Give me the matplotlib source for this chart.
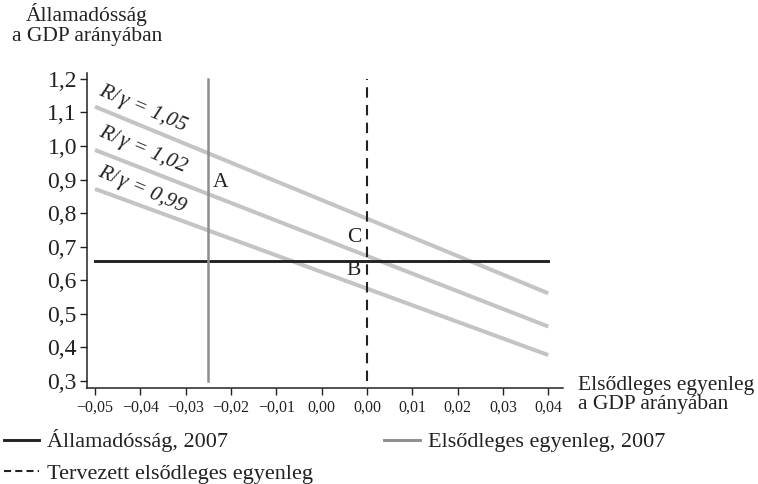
"""Államadósság és elsődleges egyenleg ábra újrarajzolása."""

from __future__ import annotations

import matplotlib

matplotlib.use("Agg")
import matplotlib.pyplot as plt
from matplotlib.lines import Line2D

# x tengely: osztásjelek helye és (az eredetivel egyező) feliratai
x_ticks = [-0.05, -0.04, -0.03, -0.02, -0.01, 0.00, 0.01, 0.02, 0.03, 0.04, 0.05]
x_labels = ["\u22120,05", "\u22120,04", "\u22120,03", "\u22120,02", "\u22120,01",
            "0,00", "0,00", "0,01", "0,02", "0,03", "0,04"]
y_ticks = [0.3, 0.4, 0.5, 0.6, 0.7, 0.8, 0.9, 1.0, 1.1, 1.2]
y_labels = ["0,3", "0,4", "0,5", "0,6", "0,7", "0,8", "0,9", "1,0", "1,1", "1,2"]

# R/gamma egyenesek: kezdő- és végpont
ratio_labels = [r"$R/\,\gamma$ = 1,05", r"$R/\,\gamma$ = 1,02", r"$R/\,\gamma$ = 0,99"]
ratio_x = [-0.05, 0.05]
ratio_y = [
    [1.117, 0.561],
    [0.988, 0.462],
    [0.872, 0.377],
]
ratio_label_pos = [(-0.0395, 1.111), (-0.0395, 0.987), (-0.0395, 0.868)]

debt_2007 = 0.657
debt_x = [-0.05, 0.05]
primary_2007 = -0.025
planned_primary = 0.01
vline_y = [0.30, 1.20]

points = ["A", "B", "C"]
points_x = [-0.0222, 0.00714, 0.00714]
points_y = [0.892, 0.630, 0.728]

FONT = ["Liberation Serif", "DejaVu Serif"]
LIGHT = "#c4c4c4"
MID = "#8e8e8e"
DARK = "#222222"


def main() -> None:
    plt.rcParams["font.family"] = FONT
    plt.rcParams["text.color"] = DARK
    plt.rcParams["mathtext.fontset"] = "custom"
    plt.rcParams["mathtext.rm"] = "Liberation Serif"
    plt.rcParams["mathtext.it"] = "Liberation Serif:italic"

    fig = plt.figure(figsize=(7.58, 4.84), dpi=100)
    ax = fig.add_axes([0.1144, 0.1977, 0.6283, 0.6513])

    for ys in ratio_y:
        ax.plot(ratio_x, ys, color=LIGHT, lw=2.9, solid_capstyle="butt", zorder=2)
    for label, (lx, ly) in zip(ratio_labels, ratio_label_pos):
        ax.text(lx, ly, label, fontsize=15.5, fontstyle="italic", rotation=-23,
                ha="center", va="center", rotation_mode="anchor")

    ax.plot(debt_x, [debt_2007, debt_2007], color=DARK, lw=2.1, zorder=3)
    ax.plot([primary_2007, primary_2007], vline_y, color=MID, lw=1.8, zorder=3)
    ax.plot([planned_primary, planned_primary], vline_y, color=DARK, lw=1.5,
            dashes=(5, 3.5), zorder=4)

    for name, px, py in zip(points, points_x, points_y):
        ax.text(px, py, name, fontsize=15.5, ha="center", va="center")

    ax.set_xlim(-0.05183, 0.05324)
    ax.set_ylim(0.278, 1.217)
    ax.set_xticks(x_ticks)
    ax.set_xticklabels(x_labels, fontsize=11.5)
    ax.set_yticks(y_ticks)
    ax.set_yticklabels(y_labels, fontsize=17)
    ax.tick_params(direction="out", length=5, width=1, color=DARK, labelcolor=DARK)
    ax.tick_params(axis="y", pad=2)
    ax.tick_params(axis="x", pad=3)
    for side in ("top", "right"):
        ax.spines[side].set_visible(False)
    for side in ("left", "bottom"):
        ax.spines[side].set_color(DARK)
        ax.spines[side].set_linewidth(1.1)

    fig.text(87 / 758, 1 - 3 / 484, "Államadósság\na GDP arányában", fontsize=15.5,
             ha="center", va="top", multialignment="center", linespacing=1.05)
    fig.text(578 / 758, 1 - 376 / 484, "Elsődleges egyenleg\na GDP arányában",
             fontsize=15.5, ha="left", va="top", linespacing=1.0)

    handles = [
        Line2D([], [], color=DARK, lw=2.1),
        Line2D([], [], color=DARK, lw=1.5, dashes=(3.4, 2.0)),
        Line2D([], [], color=MID, lw=2.1),
    ]
    labels = ["Államadósság, 2007", "Tervezett elsődleges egyenleg", "Elsődleges egyenleg, 2007"]
    fig.legend(handles, labels, ncol=2, loc="upper left", bbox_to_anchor=(0.005, 0.113),
               frameon=False, fontsize=16, handlelength=1.6, handletextpad=0.36,
               columnspacing=3.2, labelspacing=0.5, borderpad=0, borderaxespad=0)

    fig.savefig("out.png", dpi=100)
    plt.close(fig)


if __name__ == "__main__":
    main()
